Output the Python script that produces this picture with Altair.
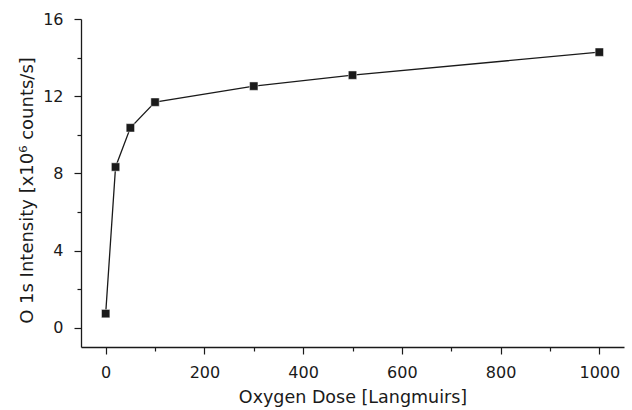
import altair as alt
import pandas as pd

# O 1s intensity versus oxygen exposure
dose = [0, 20, 50, 100, 300, 500, 1000]
intensity = [0.73, 8.33, 10.36, 11.69, 12.52, 13.09, 14.28]

df = pd.DataFrame({"dose": dose, "intensity": intensity})

FONT = "DejaVu Sans"
INK = "#1a1a1a"

x_ticks = list(range(0, 1001, 100))
y_ticks = list(range(0, 17, 2))

x = alt.X(
    "dose:Q",
    scale=alt.Scale(domain=[-50, 1050], nice=False, zero=False),
    axis=alt.Axis(
        title="Oxygen Dose [Langmuirs]",
        values=x_ticks,
        format="d",
        labelExpr="datum.value % 200 === 0 ? datum.label : ''",
        tickSize={"condition": {"test": "datum.value % 200 === 0", "value": 7}, "value": 4},
        grid=False,
        labelPadding=10,
        titleFontSize=17.5,
        titleBaseline="alphabetic",
        titleY=55,
    ),
)
y = alt.Y(
    "intensity:Q",
    scale=alt.Scale(domain=[-1, 16], nice=False, zero=False),
    axis=alt.Axis(
        title="O 1s Intensity [x10⁶ counts/s]",
        values=y_ticks,
        labelExpr="datum.value % 4 === 0 ? datum.label : ''",
        tickSize={"condition": {"test": "datum.value % 4 === 0", "value": 7}, "value": 4},
        grid=False,
        labelPadding=11,
        titleFontSize=18,
        titleBaseline="alphabetic",
        titleX=-49,
        titleY=171,
    ),
)

line = alt.Chart(df).mark_line(color=INK, strokeWidth=1.3).encode(x=x, y=y)
points = alt.Chart(df).mark_point(
    shape="square", filled=True, size=70, color=INK, opacity=1,
    stroke="white", strokeWidth=0.6, strokeOpacity=0.8,
).encode(x=x, y=y)

chart = (
    alt.layer(line, points)
    .properties(
        width=543,
        height=328,
        autosize=alt.AutoSizeParams(type="none"),
        padding={"left": 81, "top": 19, "right": 8, "bottom": 63},
        background="white",
    )
    .configure_view(stroke=None)
    .configure_axis(
        domainColor=INK,
        domainWidth=1.3,
        tickColor=INK,
        tickWidth=1.2,
        labelFont=FONT,
        labelFontSize=16,
        labelColor=INK,
        titleFont=FONT,
        titleFontWeight="normal",
        titleColor=INK,
    )
)

chart.save("out.html", embed_options={"renderer": "svg", "actions": False})
